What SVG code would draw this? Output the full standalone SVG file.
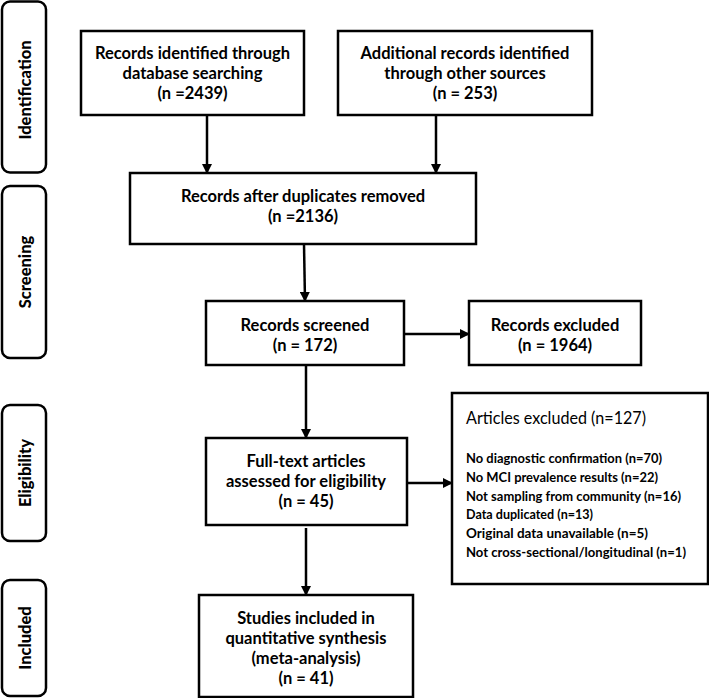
<svg xmlns="http://www.w3.org/2000/svg" width="709" height="698" viewBox="0 0 709 698">
<style>
.box{fill:#fff;stroke:#000;stroke-width:2.5}
.side{fill:#fff;stroke:#000;stroke-width:2.5}
.t{font-family:Lato,"Liberation Sans",sans-serif;font-weight:bold;font-size:16.5px;text-anchor:middle;fill:#000}
.s{font-family:Lato,"Liberation Sans",sans-serif;font-weight:900;font-size:16.5px;text-anchor:middle;fill:#000}
.h{font-family:Lato,"Liberation Sans",sans-serif;font-weight:normal;font-size:17.5px;fill:#000}
.l{font-family:Lato,"Liberation Sans",sans-serif;font-weight:bold;font-size:14px;fill:#000}
.c{stroke:#000;stroke-width:2.5;fill:none;marker-end:url(#ah)}
</style>
<defs>
<marker id="ah" markerWidth="10" markerHeight="10" refX="9" refY="5" orient="auto" markerUnits="userSpaceOnUse">
<path d="M0,0 L10,5 L0,10 Z" fill="#000"/>
</marker>
</defs>
<rect width="709" height="698" fill="#fff"/>
<g id="phase-identification"><rect class="side" x="2" y="1.5" width="44" height="171" rx="8"/><text class="s" transform="translate(31,90) rotate(-90)">Identification</text></g>
<g id="phase-screening"><rect class="side" x="2" y="186" width="44" height="172" rx="8"/><text class="s" transform="translate(31,272) rotate(-90)">Screening</text></g>
<g id="phase-eligibility"><rect class="side" x="2" y="405" width="44" height="136" rx="8"/><text class="s" transform="translate(31,473) rotate(-90)">Eligibility</text></g>
<g id="phase-included"><rect class="side" x="2" y="580" width="44" height="116" rx="8"/><text class="s" transform="translate(31,638) rotate(-90)">Included</text></g>

<g id="connectors">
<line class="c" x1="207" y1="115" x2="207" y2="173"/>
<line class="c" x1="436" y1="115" x2="436" y2="173"/>
<line class="c" x1="304" y1="244" x2="305" y2="301"/>
<line class="c" x1="404" y1="334" x2="469" y2="334"/>
<line class="c" x1="306" y1="365" x2="306" y2="438"/>
<line class="c" x1="407" y1="483" x2="452" y2="483"/>
<line class="c" x1="306" y1="528" x2="306" y2="595"/>
</g>

<g id="db-search"><rect class="box" x="81" y="31" width="223" height="84"/>
<text class="t" x="192.5" y="59">Records identified through</text>
<text class="t" x="192.5" y="79">database searching</text>
<text class="t" x="192.5" y="99">(n =2439)</text></g>
<g id="other-sources"><rect class="box" x="338" y="31" width="254" height="84"/>
<text class="t" x="465" y="59">Additional records identified</text>
<text class="t" x="465" y="79">through other sources</text>
<text class="t" x="465" y="99">(n = 253)</text></g>
<g id="dedup"><rect class="box" x="130" y="173" width="346" height="71"/>
<text class="t" x="303" y="202">Records after duplicates removed</text>
<text class="t" x="303" y="222">(n =2136)</text></g>
<g id="screened"><rect class="box" x="206" y="301" width="198" height="64"/>
<text class="t" x="305" y="331">Records screened</text>
<text class="t" x="305" y="351">(n = 172)</text></g>
<g id="excluded"><rect class="box" x="469" y="301" width="172" height="64"/>
<text class="t" x="555" y="331">Records excluded</text>
<text class="t" x="555" y="351">(n = 1964)</text></g>
<g id="fulltext"><rect class="box" x="206" y="438" width="201" height="87"/>
<text class="t" x="306" y="467">Full-text articles</text>
<text class="t" x="306" y="487">assessed for eligibility</text>
<text class="t" x="306" y="507">(n = 45)</text></g>
<g id="articles-excluded"><rect class="box" x="452" y="393" width="256" height="191"/>
<text class="h" x="466" y="424" textLength="180" lengthAdjust="spacingAndGlyphs">Articles excluded (n=127)</text>
<text class="l" x="466" y="463" textLength="196" lengthAdjust="spacingAndGlyphs">No diagnostic confirmation (n=70)</text>
<text class="l" x="466" y="482" textLength="192" lengthAdjust="spacingAndGlyphs">No MCI prevalence results (n=22)</text>
<text class="l" x="466" y="501" textLength="215" lengthAdjust="spacingAndGlyphs">Not sampling from community (n=16)</text>
<text class="l" x="466" y="519" textLength="127" lengthAdjust="spacingAndGlyphs">Data duplicated (n=13)</text>
<text class="l" x="466" y="538" textLength="182" lengthAdjust="spacingAndGlyphs">Original data unavailable (n=5)</text>
<text class="l" x="466" y="557" textLength="220" lengthAdjust="spacingAndGlyphs">Not cross-sectional/longitudinal (n=1)</text></g>
<g id="included"><rect class="box" x="199" y="595" width="214" height="102"/>
<text class="t" x="306" y="624">Studies included in</text>
<text class="t" x="306" y="644">quantitative synthesis</text>
<text class="t" x="306" y="664">(meta-analysis)</text>
<text class="t" x="306" y="684">(n = 41)</text></g>
</svg>
